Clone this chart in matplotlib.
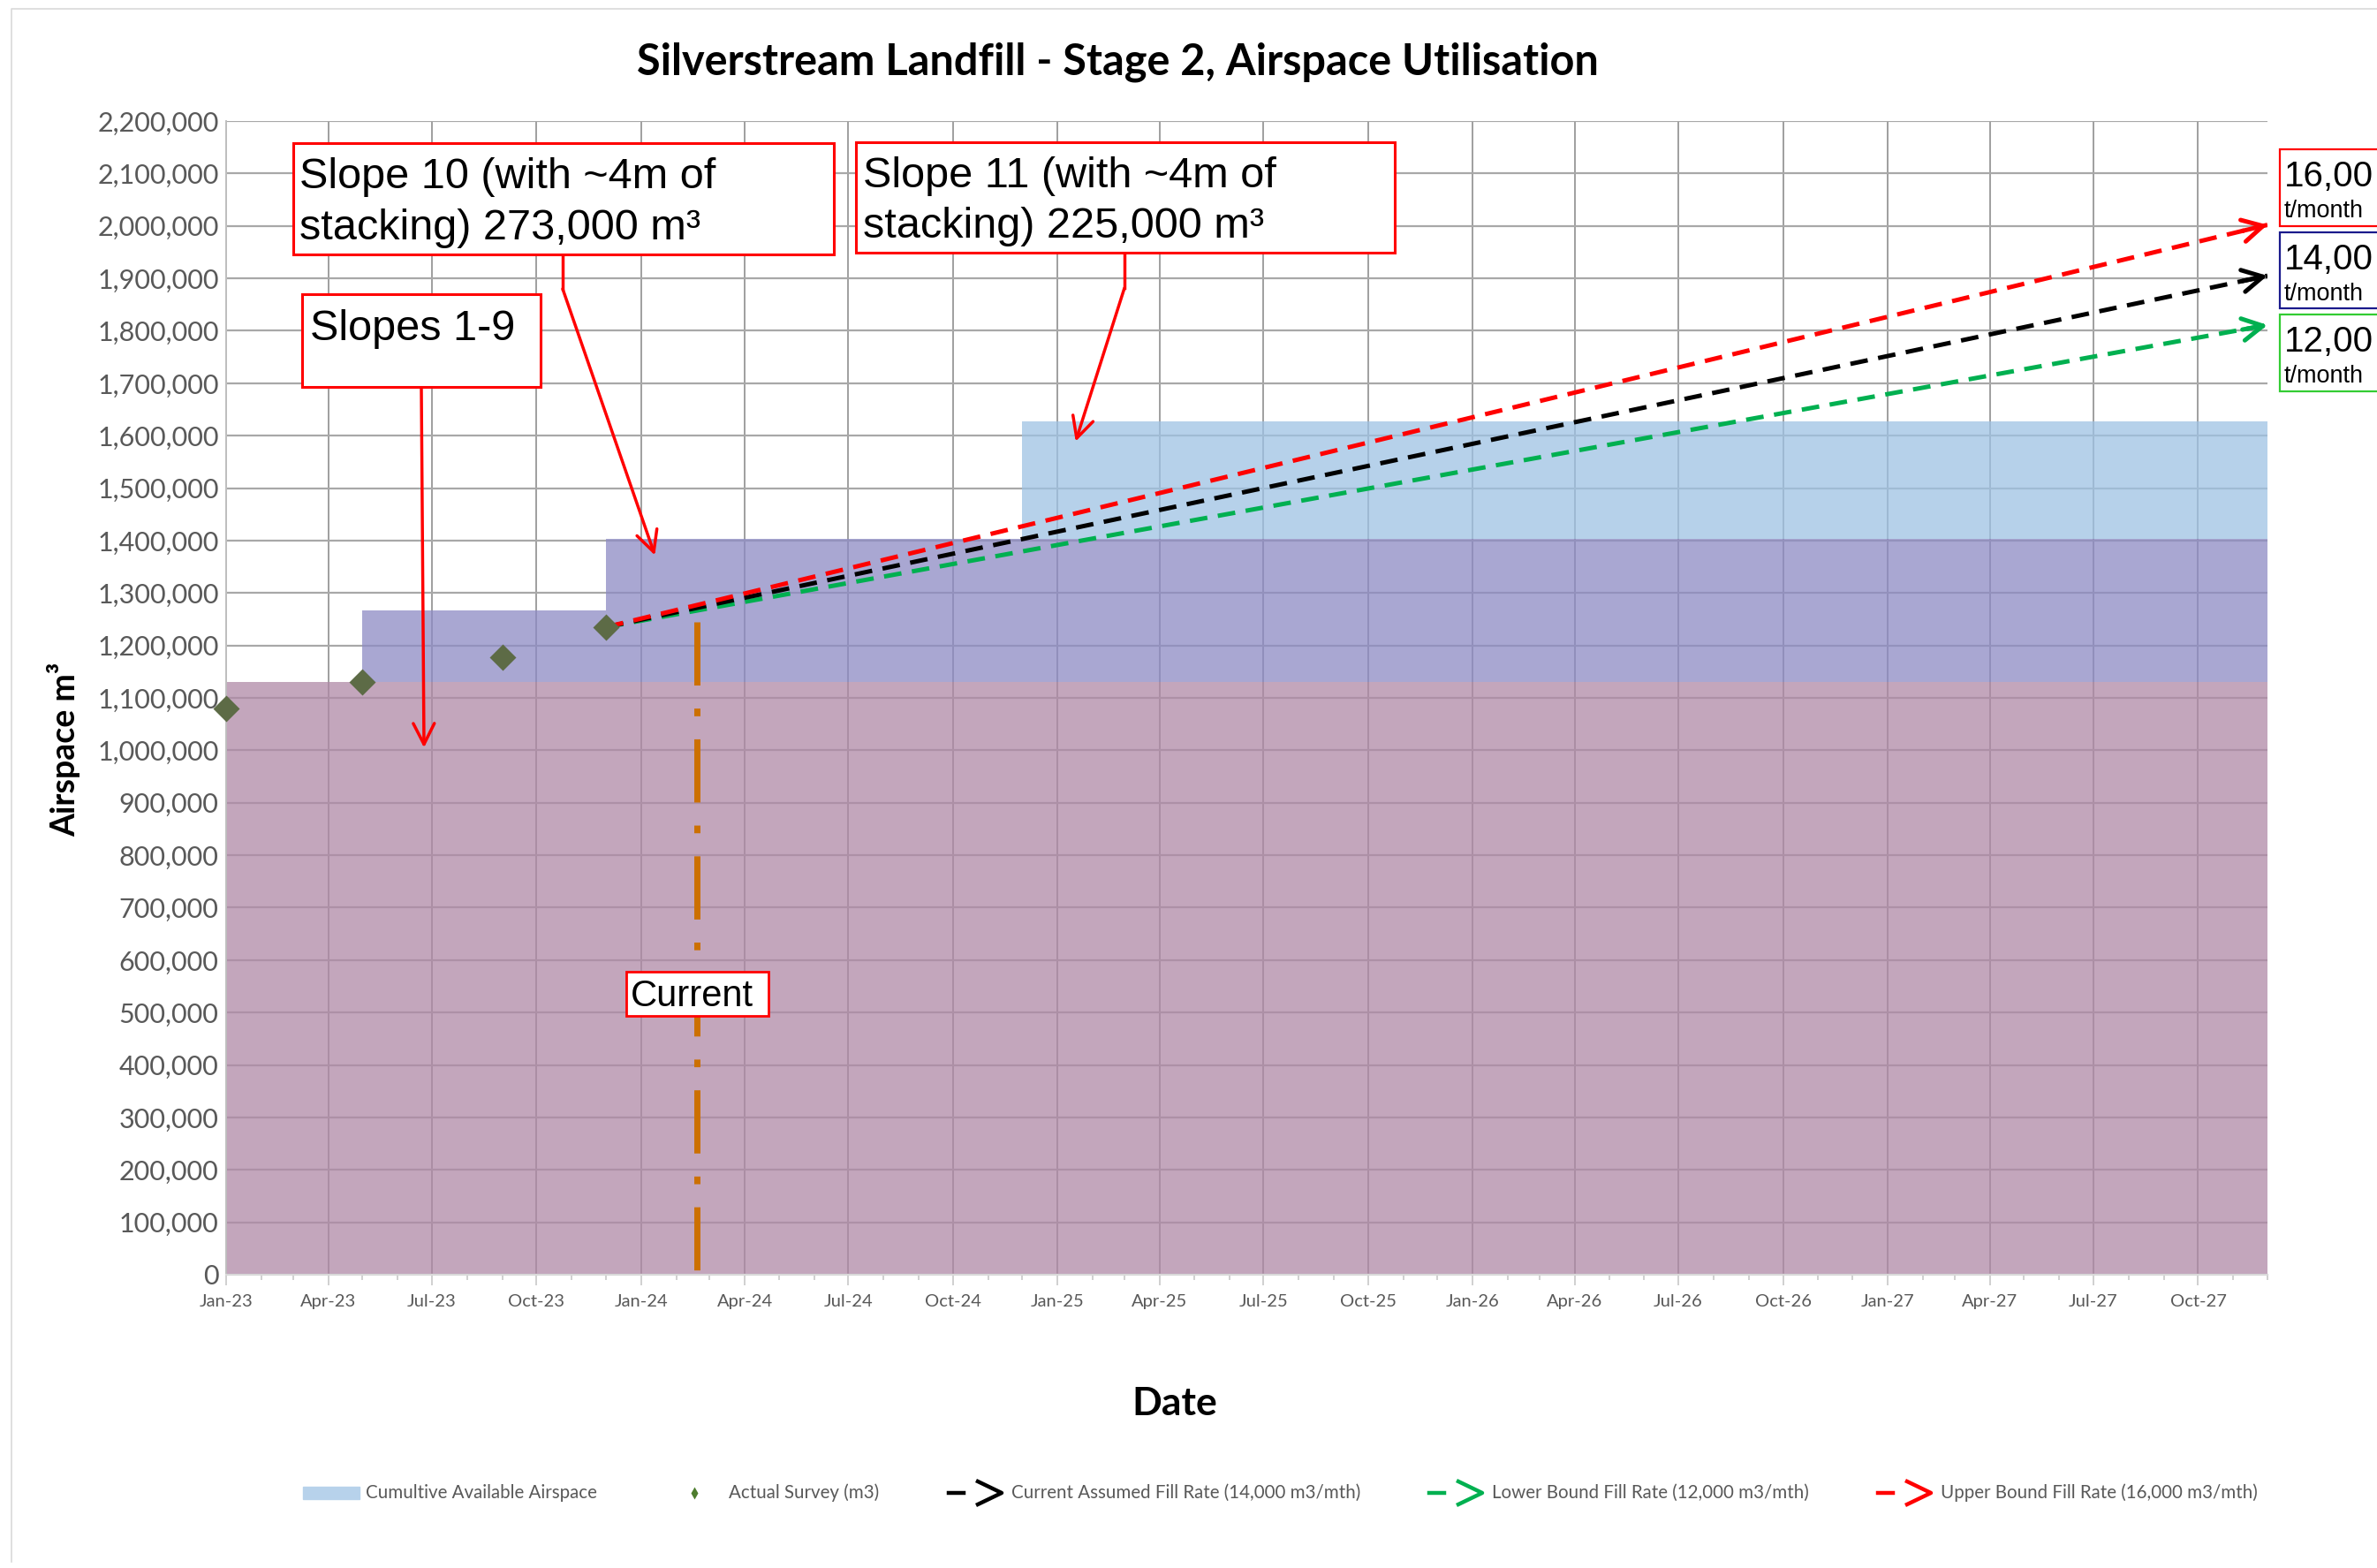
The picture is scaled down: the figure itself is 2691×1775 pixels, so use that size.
import numpy as np
import matplotlib
matplotlib.use('Agg')
import matplotlib.pyplot as plt
import matplotlib.dates as mdates
from matplotlib.patches import Rectangle
from matplotlib.lines import Line2D
from matplotlib.ticker import MultipleLocator, FuncFormatter

# ---- data ----
survey_dates = ['2023-01-01', '2023-05-01', '2023-09-01', '2023-12-01']
survey_m3 = [1080000, 1130000, 1178000, 1235000]

# available airspace steps (slopes 1-9, slope 10, slope 11)
step_dates = ['2023-01-01', '2023-05-01', '2023-12-01', '2024-12-01', '2027-12-01']
slopes_1_9_top = [1130000, 1130000, 1130000, 1130000, 1130000]
slope_10_top = [1130000, 1267000, 1403000, 1403000, 1403000]
slope_11_top = [1130000, 1267000, 1403000, 1628000, 1628000]

# fill rate projections
proj_dates = ['2023-12-01', '2027-12-01']
lower_fill = [1235000, 1811000]     # 12,000 m3/mth
current_fill = [1235000, 1905000]   # 14,000 m3/mth
upper_fill = [1235000, 2002000]     # 16,000 m3/mth

current_date = '2024-02-19'
current_top = 1245000

x_start, x_end = '2023-01-01', '2027-12-01'

W, H = 2691, 1775
plt.rcParams['font.family'] = ['Lato', 'DejaVu Sans']

fig = plt.figure(figsize=(W / 100, H / 100), dpi=100)


def fx(px):
    return px / W


def fy(py):
    return 1 - py / H


ax = fig.add_axes([fx(256), fy(1443), fx(2567) - fx(256), fy(137) - fy(1443)])

sd = np.array(step_dates, dtype='datetime64[D]')
ax.fill_between(sd, 0, slopes_1_9_top, step='post', color='#af88a6', alpha=0.75, lw=0)
ax.fill_between(sd, slopes_1_9_top, slope_10_top, step='post', color='#8c8ac4', alpha=0.75, lw=0)
ax.fill_between(sd, slope_10_top, slope_11_top, step='post', color='#9ec2e4', alpha=0.75, lw=0)

# current date marker (long dash at both ends)
cd = np.datetime64(current_date)
ax.plot([cd, cd], [current_top, 0], color='#cc7000', lw=5, dashes=(10.3, 3.76, 1.25, 3.76), zorder=3)

# projections (green, black, red) with open arrow heads
pd_ = np.array(proj_dates, dtype='datetime64[D]')
for vals, col in [(lower_fill, '#00b050'), (current_fill, 'black'), (upper_fill, '#ff0000')]:
    ax.plot(pd_, vals, color=col, lw=3.6, dashes=(4, 2.4), zorder=4)
    span = pd_[1] - pd_[0]
    tail_x = pd_[0] + span * 0.985
    tail_y = vals[0] + (vals[1] - vals[0]) * 0.985
    ax.annotate('', xy=(pd_[1], vals[1]), xytext=(tail_x, tail_y),
                arrowprops=dict(arrowstyle='->,head_length=0.83,head_width=0.45',
                                color=col, lw=3.6, mutation_scale=20,
                                shrinkA=0, shrinkB=0),
                annotation_clip=False, zorder=4)

ax.plot(np.array(survey_dates, dtype='datetime64[D]'), survey_m3, ls='none',
        marker='D', ms=14.8, color='#5d6b46', mec='none', zorder=5, clip_on=False)

ax.set_xlim(np.datetime64(x_start), np.datetime64(x_end))
ax.set_ylim(0, 2200000)
ax.xaxis.set_major_locator(mdates.MonthLocator(bymonth=[1, 4, 7, 10]))
ax.xaxis.set_minor_locator(mdates.MonthLocator())
ax.xaxis.set_major_formatter(mdates.DateFormatter('%b-%y'))
ax.yaxis.set_major_locator(MultipleLocator(100000))
ax.yaxis.set_major_formatter(FuncFormatter(lambda v, p: f'{int(v):,}'))

ax.set_axisbelow(True)
ax.grid(axis='y', color='#a8a8a8', lw=1.6)
ax.grid(axis='x', which='major', color='#858585', lw=1.1)
ax.tick_params(axis='x', which='major', length=8.6, width=1.4, color='#d0d0d0',
               labelsize=14.5, labelcolor='#595959', pad=7)
ax.tick_params(axis='x', which='minor', length=4.5, width=1.4, color='#d0d0d0')
ax.tick_params(axis='y', length=0, labelsize=22, labelcolor='#595959', pad=6)
for s in ['top', 'right']:
    ax.spines[s].set_visible(False)
ax.spines['left'].set_color('#bfbfbf')
ax.spines['left'].set_linewidth(1.4)
ax.spines['bottom'].set_color('#d9d9d9')
ax.spines['bottom'].set_linewidth(1.6)

# faint chart-area border (left and top; right side is cut off)
fig.add_artist(Line2D([fx(13), fx(13), 1.0], [fy(1768), fy(10), fy(10)],
                      transform=fig.transFigure, color='#d9d9d9', lw=1.2))

# titles
fig.text(fx(1265), fy(70), 'Silverstream Landfill - Stage 2, Airspace Utilisation',
         ha='center', va='center', fontsize=35, weight='bold')
fig.text(fx(72), fy(848), 'Airspace m³', rotation=90, ha='center', va='center',
         fontsize=27, weight='bold')
fig.text(fx(1330), fy(1589), 'Date', ha='center', va='center', fontsize=32, weight='bold')


# callout boxes
def box(x0, y0, x1, y1, edge, lw=2.2):
    fig.add_artist(Rectangle((fx(x0), fy(y1)), fx(x1) - fx(x0), fy(y0) - fy(y1),
                             transform=fig.transFigure, facecolor='white',
                             edgecolor=edge, lw=lw, zorder=5))


def label(x, y, s, size, **kw):
    fig.text(fx(x), fy(y), s, fontsize=size, family='Liberation Sans',
             va='baseline', zorder=6, **kw)


def stem(x, y0, y1):
    fig.add_artist(Line2D([fx(x), fx(x)], [fy(y0), fy(y1)], transform=fig.transFigure,
                          color='red', lw=2.5, zorder=4))


def pointer(x, y, tip):
    ax.annotate('', xy=(np.datetime64(tip[0]), tip[1]), xycoords='data',
                xytext=(fx(x), fy(y)), textcoords='figure fraction',
                arrowprops=dict(arrowstyle='->,head_length=0.85,head_width=0.43',
                                color='red', lw=2.5, mutation_scale=20,
                                shrinkA=0, shrinkB=0))


box(332, 162, 944, 288, 'red')
label(339, 213, 'Slope 10 (with ~4m of', 35)
label(339, 271, 'stacking) 273,000 m³', 35)
stem(637, 288, 327)
pointer(637, 327, ('2024-01-13', 1372000))

box(969, 161, 1579, 286, 'red')
label(977, 212, 'Slope 11 (with ~4m of', 35)
label(977, 269, 'stacking) 225,000 m³', 35)
stem(1273, 286, 326)
pointer(1273, 326, ('2025-01-17', 1589000))

box(342, 333, 612, 438, 'red')
label(351, 385, 'Slopes 1-9', 35)
pointer(477, 438, ('2023-06-24', 1005000))

box(709, 1100, 870, 1150, 'red', lw=2)
label(714, 1139, 'Current', 30)

# fill rate labels on the right (the chart is cropped here, so only "16,00" shows)
for y0, y1, edge, big in [(169, 256, '#ff0000', '16,00'),
                          (263, 349, '#1a1a8c', '14,00'),
                          (356, 443, '#33cc33', '12,00')]:
    box(2581, y0, 2720, y1, edge, lw=1.6)
    label(2586, y0 + 42, big, 29)
    label(2586, y0 + 77, 't/month', 19.5)

# legend
ly = 1690
fig.add_artist(Rectangle((fx(343), fy(1697)), fx(407) - fx(343), fy(1683) - fy(1697),
                         transform=fig.transFigure, color='#b7d2eb'))
fig.add_artist(Line2D([fx(786)], [fy(ly)], marker='d', ms=7.6, color='#4e7d2e',
                      mec='none', ls='none', transform=fig.transFigure))
for x0, col in [(1074, 'black'), (1618, '#00b050'), (2126, '#ff0000')]:
    fig.add_artist(Line2D([fx(x0), fx(x0 + 17)], [fy(ly), fy(ly)], color=col, lw=3.2,
                          transform=fig.transFigure))
    fig.add_artist(Line2D([fx(x0 + 33), fx(x0 + 60), fx(x0 + 33)],
                          [fy(ly - 13), fy(ly), fy(ly + 13)], color=col, lw=3.2,
                          transform=fig.transFigure))
for x0, s in [(414, 'Cumultive Available Airspace'), (825, 'Actual Survey (m3)'),
              (1145, 'Current Assumed Fill Rate (14,000 m3/mth)'),
              (1689, 'Lower Bound Fill Rate (12,000 m3/mth)'),
              (2197, 'Upper Bound Fill Rate (16,000 m3/mth)')]:
    fig.text(fx(x0), fy(ly), s, fontsize=14.8, color='#595959', va='center')

fig.savefig('out.png', dpi=100)
